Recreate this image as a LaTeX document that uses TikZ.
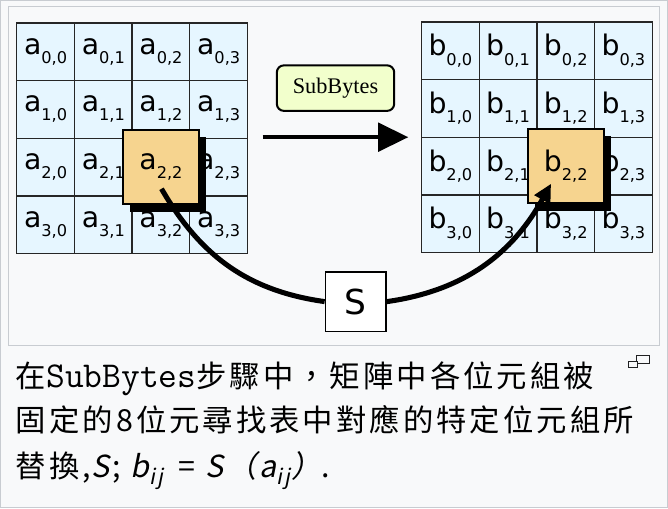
\documentclass[tikz,border=0pt]{standalone}
\usepackage{fontspec}
\setmainfont{DejaVu Sans}
\newfontfamily\capfont[LetterSpace=10,ItalicFont={Noto Sans CJK TC},ItalicFeatures={FakeSlant=0.2}]{Noto Sans CJK TC}
\newfontfamily\tagfont{Liberation Serif}
\usetikzlibrary{arrows.meta,shadows}
\definecolor{framegray}{HTML}{C8CCD1}
\definecolor{pagebg}{HTML}{F8F9FA}
\definecolor{cellblue}{HTML}{E6F6FF}
\definecolor{pickorange}{HTML}{F6D48F}
\definecolor{tagyellow}{HTML}{F2FFCC}
\definecolor{icongray}{HTML}{202122}
\newcommand{\cellname}[2]{\fontsize{28}{28}\selectfont #1\raisebox{-9pt}{\fontsize{16}{16}\selectfont #2}}

\begin{document}
\begin{tikzpicture}[x=1pt,y=1pt,
  frame/.style={draw=framegray,fill=pagebg,line width=1.2pt},
  cell/.style={draw=black!85,line width=1.3pt,fill=cellblue,minimum size=57pt,inner sep=0pt},
  pick/.style={draw=black,line width=2pt,fill=pickorange,minimum width=75pt,minimum height=74pt,inner sep=0pt,
    drop shadow={fill=black,opacity=1,shadow xshift=7pt,shadow yshift=-7pt}},
  tag/.style={draw=black,line width=2pt,rounded corners=7pt,fill=tagyellow,minimum width=116pt,minimum height=45pt,
    font=\tagfont\fontsize{22}{22}\selectfont},
  sbox/.style={draw=black,line width=1.5pt,fill=white,minimum width=60pt,minimum height=59pt,inner sep=0pt,
    font=\fontsize{34}{34}\selectfont},
  flow/.style={line width=4.5pt,-{Triangle[length=30pt,width=28pt]}},
  subst/.style={line width=5pt},
  captext/.style={anchor=base west,inner sep=0pt,font=\capfont\fontsize{30}{30}\selectfont}]
\draw[frame] (4,5) rectangle (663,506);
\draw[frame] (12,165) rectangle (655,500);
\foreach \r in {0,...,3}
  \foreach \c in {0,...,3} {
    \node[cell] (a\r\c) at (48.5+57*\c,455.5-57*\r) {\cellname{a}{\r,\c}};
    \node[cell] (b\r\c) at (448.5+57*\c,456.5-57*\r) {\cellname{b}{\r,\c}};
  }
\node[pick] (apick) at (a22) {\cellname{a}{2,2}};
\node[pick] (bpick) at (b22) {\cellname{b}{2,2}};
\node[tag] (subbytes) at (335,419.5) {SubBytes};
\coordinate (flowin) at (263,371);
\coordinate (flowout) at (407,371);
\draw[flow] (flowin) -- (flowout);
\coordinate (src) at (163,320);
\coordinate (dst) at (548,325);
\node[sbox] (sbox) at (355,208.5) {S};
\draw[subst] (src) to[out=-60,in=172] (sbox.west);
\draw[subst,-{Triangle[length=18pt,width=17pt]}] (sbox.east) to[out=8,in=241] (dst);
\node[captext] (line1) at (19,124) {在{\ttfamily\fontsize{36}{36}\selectfont SubBytes}步驟中，矩陣中各位元組被};
\node[captext] (line2) at (19,80) {固定的8位元尋找表中對應的特定位元組所};
\node[captext] (line3) at (19,35) {替換,\textit{S}; \textit{b\textsubscript{ij}\,} = \textit{S（a\textsubscript{ij}）}.};
\draw[icongray,line width=1pt] (632,147) rectangle (645,155);
\draw[icongray,line width=1pt,fill=pagebg] (625,143) rectangle (633,149);
\end{tikzpicture}
\end{document}
